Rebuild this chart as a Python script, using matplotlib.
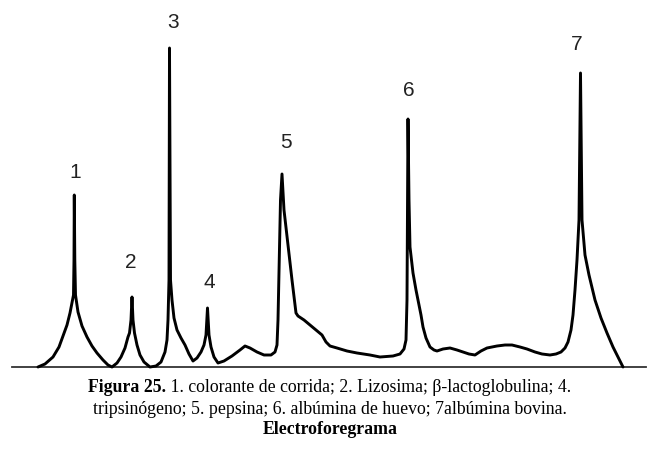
import numpy as np
import matplotlib
matplotlib.use("Agg")
import matplotlib.pyplot as plt

# trace of the electropherogram: migration position and signal height above baseline
trace_x = [38, 45, 53, 59, 63, 67, 70, 72, 73.5, 74, 74.3, 74.8, 75.5, 78, 82, 87, 92, 97, 103, 108,
           112, 117, 121, 125, 128, 129.5, 131, 132, 133, 134.5, 137, 140, 144, 150,
           156, 161, 165, 167, 168, 169, 169.5, 170.5, 172, 174, 177, 181, 185, 189, 193,
           197, 201, 204, 206, 207.5, 209, 211, 214, 218, 224, 232, 240, 245, 250, 257, 264, 271,
           275, 277, 278, 279, 280.5, 282, 284, 288, 292, 296, 298, 304, 310, 316, 322, 326, 330,
           337, 347, 357, 370, 380, 393, 400, 404, 406, 407, 407.5, 408, 409, 410, 413, 416, 418,
           421, 423, 426, 430, 434, 437, 443, 450, 457, 463, 469, 475, 481, 487, 497, 505, 512,
           520, 527, 535, 542, 550, 556, 561, 565, 568, 571, 573, 575, 577, 579, 580.5, 582, 585,
           589, 595, 601, 607, 613, 618, 623]
trace_y = [367, 364, 357, 347, 336, 325, 313, 303, 295, 260, 195, 260, 295, 312, 326, 337, 346, 353, 360, 365,
           367, 363, 357, 348, 337, 333, 320, 297, 320, 333, 345, 355, 362, 367,
           366, 362, 352, 340, 320, 280, 48, 280, 300, 318, 330, 338, 345, 354, 361,
           358, 352, 345, 335, 308, 335, 347, 357, 363, 361, 356, 350, 346, 348, 352, 355, 355,
           352, 345, 320, 270, 200, 174, 210, 245, 280, 313, 316, 320, 325, 330, 335, 342, 346,
           348, 351, 353, 355, 357, 356, 354, 349, 340, 300, 200, 119, 200, 247, 273, 290, 300,
           315, 327, 338, 347, 350, 351, 349, 348, 350, 352, 354, 355, 351, 348, 346, 345, 345,
           347, 349, 352, 354, 355, 354, 352, 348, 342, 330, 315, 290, 260, 220, 73, 220, 255,
           275, 300, 318, 333, 347, 357, 367]
baseline = 367
trace_h = [baseline - v for v in trace_y]

peak_ids = ["1", "2", "3", "4", "5", "6", "7"]
label_x = [75, 131, 173, 209, 286, 409, 577]
label_h = [195, 105, 345, 84, 224, 276, 323]

caption_bold = "Figura 25."
caption_rest = " 1. colorante de corrida; 2. Lizosima; \u03b2-lactoglobulina; 4."
caption_line2 = "tripsin\u00f3geno; 5. pepsina; 6. alb\u00famina de huevo; 7alb\u00famina bovina."
caption_title = "Electroforegrama"

fig = plt.figure(figsize=(6.55, 4.55), dpi=100)
ax = fig.add_axes([0, 0, 1, 1])
ax.set_xlim(0, 655)
ax.set_ylim(-88, 367)
ax.axis("off")

ax.plot([12, 646], [0, 0], color="#333333", lw=1.3)
ax.plot(trace_x, trace_h, color="black", lw=2.1, solid_joinstyle="round", solid_capstyle="round")

for t, x, h in zip(peak_ids, label_x, label_h):
    ax.text(x, h, t, ha="center", va="center", fontsize=15, family="Liberation Sans", color="#222222")

serif = "Liberation Serif"
fs = 12.8
t1 = ax.text(0, -21, caption_bold, fontsize=fs, family=serif, fontweight="bold", va="center")
t2 = ax.text(0, -21, caption_rest, fontsize=fs, family=serif, va="center")
fig.canvas.draw()
r = fig.canvas.get_renderer()
w1 = t1.get_window_extent(r).width
w2 = t2.get_window_extent(r).width
x0 = 330 - (w1 + w2) / 2
t1.set_x(x0)
t2.set_x(x0 + w1)
ax.text(330, -42, caption_line2, fontsize=fs, family=serif, ha="center", va="center")
ax.text(330, -63, caption_title, fontsize=fs, family=serif, fontweight="bold", ha="center", va="center")

plt.savefig("out.png", dpi=100)
